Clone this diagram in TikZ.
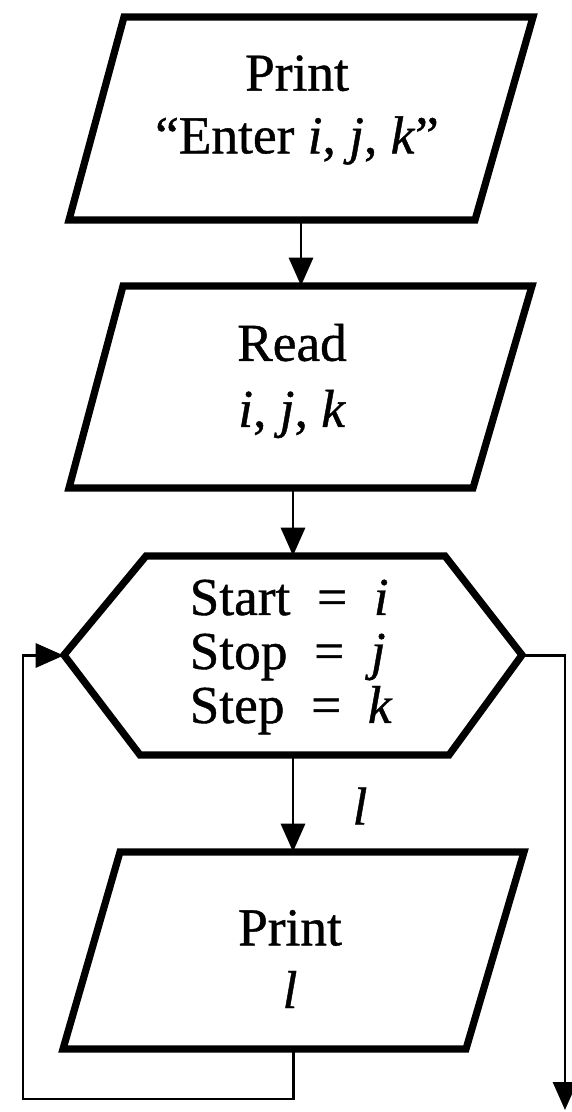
\documentclass[tikz,border=0pt]{standalone}
\usepackage{fontspec}
\setmainfont{Liberation Serif}[FakeBold=0.8]
\usetikzlibrary{fit,arrows.meta}
\begin{document}
\begin{tikzpicture}[x=0.75pt,y=-0.75pt,
  shapeline/.style={line width=5.4pt, line join=miter},
  frame/.style={inner sep=0pt, draw=none},
  flow/.style={line width=2.2pt, -{Triangle[length=21pt,width=18pt]}},
  txt/.style={inner sep=0pt, align=center, font=\fontsize{40}{47}\selectfont},
]
\useasboundingbox (0,0) rectangle (571,1112);

% input box: Print "Enter i, j, k"
\draw[shapeline] (124,17) -- (533,17) -- (475,220) -- (69,220) -- cycle;
\node[frame, fit={(69,17)(533,220)}] (b1) {};
\node[txt] (t1) at (297,110) {Print\\``Enter \textit{i}, \textit{j}, \textit{k}''};

% read box
\draw[shapeline] (123,286) -- (532,286) -- (473,488) -- (69,488) -- cycle;
\node[frame, fit={(69,286)(532,488)}] (b2) {};
\node[txt, font=\fontsize{40}{49.5}\selectfont] (t2) at (292,381) {Read\\\textit{i}, \textit{j}, \textit{k}};

% loop hexagon
\draw[shapeline] (64,655) -- (146,556) -- (445,556) -- (522,655) -- (449,755) -- (140,755) -- cycle;
\node[frame, fit={(64,556)(522,755)}] (hx) {};
\node[txt, align=left, font=\fontsize{40}{40.5}\selectfont] (t3) at (291,657)
  {Start\enspace=\enspace\textit{i}\\Stop\enspace=\enspace\textit{j}\\Step\enspace=\enspace\textit{k}};

% output box: Print l
\draw[shapeline] (120,852) -- (524,852) -- (466,1049) -- (63,1049) -- cycle;
\node[frame, fit={(63,852)(524,1049)}] (b4) {};
\node[txt] (t4) at (290,959) {Print\\\textit{l}};

% loop variable label
\node[txt] (lv) at (360,806) {\textit{l}};

% turning points of the return and exit lines
\coordinate (back) at (23,1099);
\coordinate (out) at (565,1110);

% connectors
\draw[flow] (b1.south) -- (b1.south |- b2.north);
\draw[flow] (hx.north |- b2.south) -- (hx.north);
\draw[flow] (hx.south) -- (hx.south |- b4.north);
\draw[flow] (b4.south) |- (back) |- (hx.west);
\draw[flow] (hx.east) -| (out);
\end{tikzpicture}
\end{document}
